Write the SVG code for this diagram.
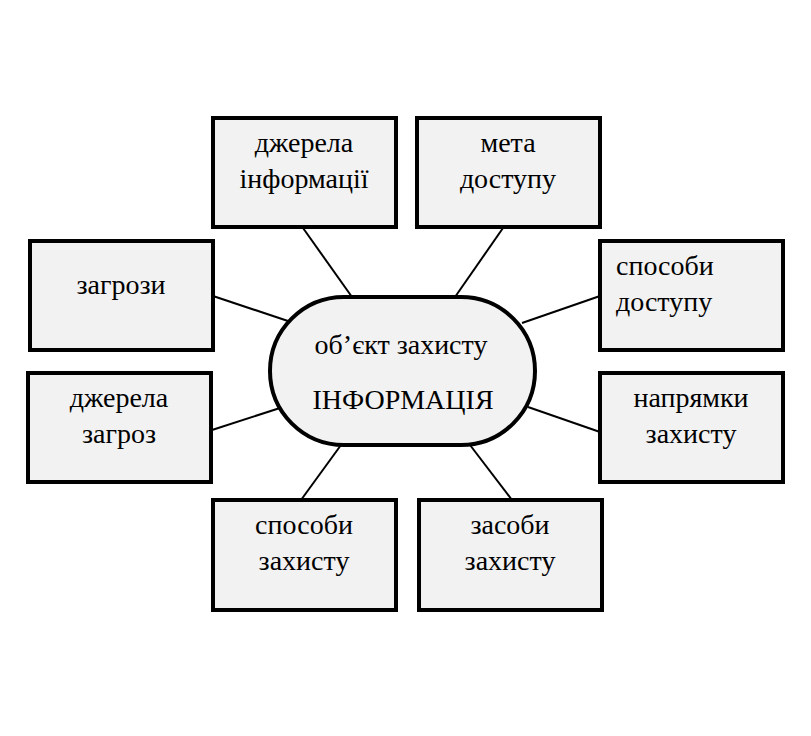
<svg xmlns="http://www.w3.org/2000/svg" width="811" height="736" viewBox="0 0 811 736">
<style>
.box{fill:#f2f2f2;stroke:#000;stroke-width:4}
.c line{stroke:#000;stroke-width:2}
</style>
<rect width="811" height="736" fill="#fff"/>
<g class="c" id="connectors">
<line x1="303" y1="228" x2="352" y2="297"/>
<line x1="503" y1="228" x2="455" y2="297"/>
<line x1="213" y1="296" x2="288" y2="321"/>
<line x1="212" y1="430" x2="280" y2="408"/>
<line x1="600" y1="296" x2="522" y2="323"/>
<line x1="600" y1="432" x2="528" y2="407"/>
<line x1="301" y1="500" x2="341" y2="445"/>
<line x1="512" y1="500" x2="470" y2="445"/>
</g>
<g id="center">
<rect class="box" x="270" y="297" width="265" height="148" rx="74" ry="74"/>
<text x="401" y="354" font-family="'Liberation Serif', serif" font-size="28" text-anchor="middle">об’єкт захисту</text>
<text x="403" y="409" font-family="'Liberation Serif', serif" font-size="28" text-anchor="middle">ІНФОРМАЦІЯ</text>
</g>
<g id="n1"><rect class="box" x="213" y="118" width="183" height="109"/>
<text x="304" y="152" font-family="'Liberation Serif', serif" font-size="28" text-anchor="middle">джерела</text>
<text x="304" y="188" font-family="'Liberation Serif', serif" font-size="28" text-anchor="middle">інформації</text></g>
<g id="n2"><rect class="box" x="417" y="118" width="183" height="109"/>
<text x="508" y="152" font-family="'Liberation Serif', serif" font-size="28" text-anchor="middle">мета</text>
<text x="508" y="188" font-family="'Liberation Serif', serif" font-size="28" text-anchor="middle">доступу</text></g>
<g id="n3"><rect class="box" x="30" y="241" width="183" height="109"/>
<text x="121" y="294" font-family="'Liberation Serif', serif" font-size="28" text-anchor="middle">загрози</text></g>
<g id="n4"><rect class="box" x="28" y="373" width="183" height="109"/>
<text x="119" y="407" font-family="'Liberation Serif', serif" font-size="28" text-anchor="middle">джерела</text>
<text x="119" y="443" font-family="'Liberation Serif', serif" font-size="28" text-anchor="middle">загроз</text></g>
<g id="n5"><rect class="box" x="600" y="241" width="183" height="109"/>
<text x="616" y="275" font-family="'Liberation Serif', serif" font-size="28">способи</text>
<text x="616" y="311" font-family="'Liberation Serif', serif" font-size="28">доступу</text></g>
<g id="n6"><rect class="box" x="600" y="373" width="183" height="109"/>
<text x="691" y="407" font-family="'Liberation Serif', serif" font-size="28" text-anchor="middle">напрямки</text>
<text x="691" y="443" font-family="'Liberation Serif', serif" font-size="28" text-anchor="middle">захисту</text></g>
<g id="n7"><rect class="box" x="213" y="500" width="183" height="110"/>
<text x="304" y="534" font-family="'Liberation Serif', serif" font-size="28" text-anchor="middle">способи</text>
<text x="304" y="570" font-family="'Liberation Serif', serif" font-size="28" text-anchor="middle">захисту</text></g>
<g id="n8"><rect class="box" x="419" y="500" width="183" height="110"/>
<text x="510" y="534" font-family="'Liberation Serif', serif" font-size="28" text-anchor="middle">засоби</text>
<text x="510" y="570" font-family="'Liberation Serif', serif" font-size="28" text-anchor="middle">захисту</text></g>
</svg>
